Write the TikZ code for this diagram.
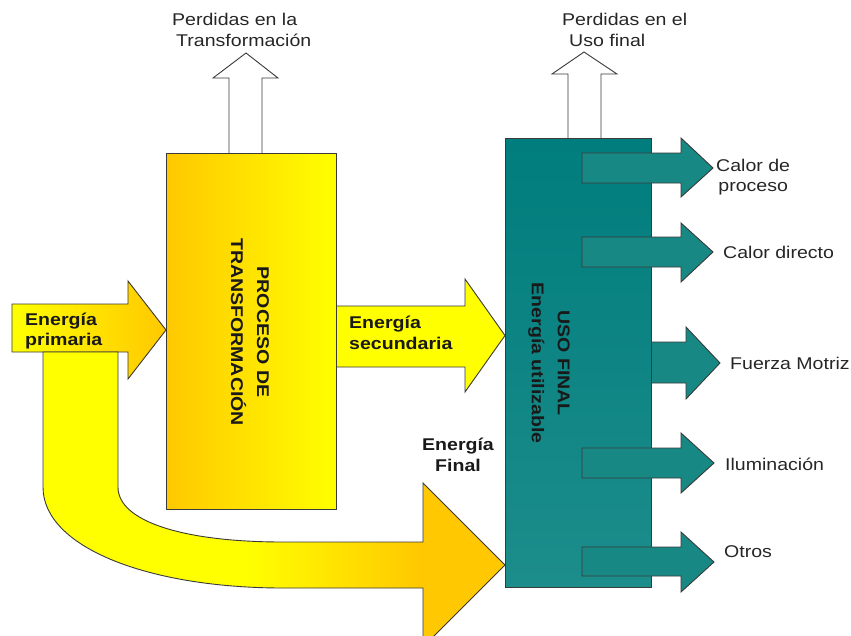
\documentclass[tikz,border=0pt]{standalone}
\usepackage{fontspec}
\setmainfont{Liberation Sans}[FakeStretch=1.15]
\definecolor{yel}{HTML}{FFFF00}
\definecolor{org}{HTML}{FFC800}
\definecolor{tealtop}{HTML}{007D7D}
\definecolor{tealbot}{HTML}{1C8D8B}
\definecolor{tealarr}{HTML}{188884}
\definecolor{edge}{HTML}{3A3A3A}
\pgfdeclarehorizontalshading{curvsh}{100bp}{color(0bp)=(yel); color(47bp)=(yel); color(66bp)=(org); color(100bp)=(org)}
\begin{document}
\begin{tikzpicture}[x=1pt,y=-1pt,
  outl/.style={draw=edge, line width=0.9pt, line join=miter},
  tarr/.style={outl, fill=tealarr},
  lossarr/.style={outl, fill=white},
  lbl/.style={font=\fontsize{17}{20.5}\selectfont, inner sep=0pt, text=black!85},
  blbl/.style={font=\fontsize{17}{20.5}\selectfont\bfseries, inner sep=0pt, text=black!90},
  vlbl/.style={font=\fontsize{17}{26}\selectfont\bfseries, inner sep=0pt, rotate=-90, align=center, text=black!90}]
\useasboundingbox (0,0) rectangle (851,635);
\clip (0,0) rectangle (851,635);

% losses arrows
\draw[lossarr] (229,160) -- (229,78) -- (213,78) -- (246,53) -- (278,78) -- (262,78) -- (262,160) -- cycle;
\draw[lossarr] (568,145) -- (568,74) -- (552,74) -- (584,52) -- (617,74) -- (601,74) -- (601,145) -- cycle;

% primary energy arrow
\draw[outl, left color=yel, right color=org] (12,304) -- (128,304) -- (128,281) -- (166,330) -- (128,379) -- (128,352) -- (12,352) -- cycle;

% secondary energy arrow
\draw[outl, fill=yel] (330,306) -- (465,306) -- (465,279) -- (505,335.5) -- (465,392) -- (465,367) -- (330,367) -- cycle;

% transformation box
\node[outl, minimum width=170pt, minimum height=356pt, left color=org, right color=yel] (trans) at (251,331) {};
\node[vlbl] (transtxt) at (250,332) {PROCESO DE\\TRANSFORMACIÓN};

% curved final energy arrow
\draw[outl, shading=curvsh] (43,352) -- (118,352) -- (118,487)
  .. controls (118,522) and (185,542) .. (283,542) -- (423,542) -- (423,483) -- (505,565)
  -- (423,647) -- (423,588) -- (283,588)
  .. controls (150,588) and (43,548) .. (43,487) -- cycle;

% Fuerza motriz arrow (behind box)
\draw[tarr] (640,342) -- (686,342) -- (686,327) -- (720,363) -- (686,399) -- (686,383) -- (640,383) -- cycle;

% final use box
\node[outl, minimum width=146pt, minimum height=449pt, top color=tealtop, bottom color=tealbot] (uso) at (578,362.5) {};
\node[vlbl] (usotxt) at (549,363) {USO FINAL\\Energía utilizable};

% output arrows
\draw[tarr] (582,153) -- (681,153) -- (681,138) -- (713,168) -- (681,197) -- (681,183) -- (582,183) -- cycle;
\draw[tarr] (582,237) -- (681,237) -- (681,223) -- (713,252) -- (681,282) -- (681,267) -- (582,267) -- cycle;
\draw[tarr] (582,448) -- (681,448) -- (681,433) -- (714,463) -- (681,493) -- (681,478) -- (582,478) -- cycle;
\draw[tarr] (582,547) -- (681,547) -- (681,532) -- (714,562) -- (681,592) -- (681,576) -- (582,576) -- cycle;

% labels
\node[lbl, align=left, anchor=west] (loss1) at (172,30) {Perdidas en la\\\hspace*{4pt}Transformación};
\node[lbl, align=left, anchor=west] (loss2) at (562,30) {Perdidas en el\\\hspace*{7pt}Uso final};
\node[blbl, align=left, anchor=west] (prim) at (25,331) {Energía\\primaria};
\node[blbl, align=left, anchor=west] (sec) at (349,333) {Energía\\secundaria};
\node[blbl, align=center] (fin) at (458,455) {Energía\\Final};
\node[lbl, align=center, anchor=west] (o1) at (716,177) {Calor de\\proceso};
\node[lbl, anchor=west] (o2) at (723,252) {Calor directo};
\node[lbl, anchor=west] (o3) at (730,363) {Fuerza Motriz};
\node[lbl, anchor=west] (o4) at (725,464) {Iluminación};
\node[lbl, anchor=west] (o5) at (724,552) {Otros};
\end{tikzpicture}
\end{document}
